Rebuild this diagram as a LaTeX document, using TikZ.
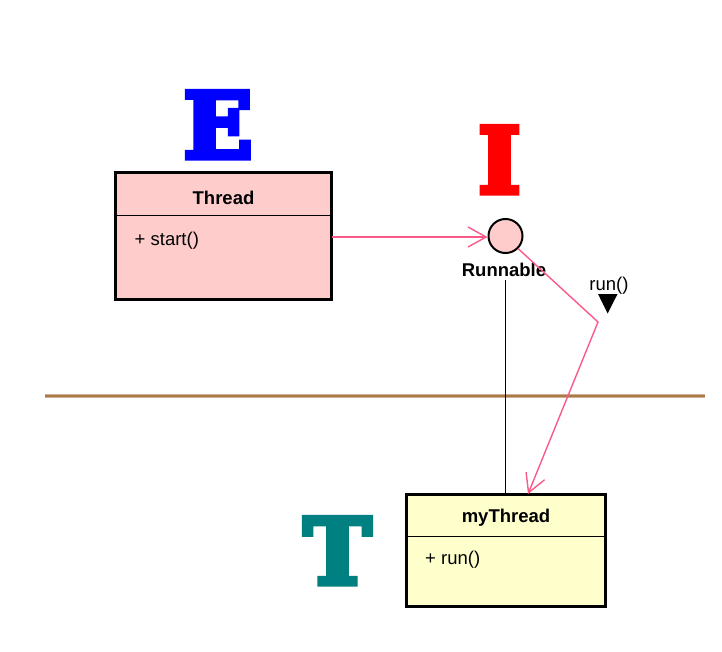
\documentclass[tikz,border=0pt]{standalone}
\usepackage{fontspec}
\setmainfont{Liberation Sans}
\newfontfamily\slabfont{DejaVu Serif}[FakeBold=6]
\usetikzlibrary{arrows.meta}
\definecolor{pinkline}{RGB}{250,90,135}
\definecolor{brownline}{RGB}{172,122,72}
\definecolor{threadfill}{RGB}{255,204,204}
\definecolor{mythreadfill}{RGB}{255,255,204}
\definecolor{letterE}{RGB}{0,0,255}
\definecolor{letterI}{RGB}{255,0,0}
\definecolor{letterT}{RGB}{0,128,128}
\tikzset{
  classbox/.style={draw=black, line width=3pt},
  sepline/.style={draw=black, line width=1pt},
  lbl/.style={inner sep=0pt, anchor=base, font=\fontsize{18.5}{20}\selectfont},
  blbl/.style={lbl, font=\fontsize{18.5}{20}\selectfont\bfseries},
  bigletter/.style={inner sep=0pt, anchor=base, font=\fontsize{91}{100}\selectfont\slabfont\bfseries},
  pinkarrow/.style={draw=pinkline, line width=1.4pt, -{Straight Barb[length=18pt,width=20pt,line width=1.4pt]}},
}
\begin{document}
\begin{tikzpicture}[x=1pt,y=-1pt]
\useasboundingbox (0,0) rectangle (722,652);
% letters
\node[bigletter, text=letterE] (E) at (218,158) {E};
\node[bigletter, text=letterI] (I) at (499.5,193) {I};
\node[bigletter, text=letterT] (T) at (337.5,584) {T};
% Thread class
\path[fill=threadfill] (115.5,173) rectangle (331.5,299.5);
\draw[sepline] (115.5,215.5) -- (331.5,215.5);
\draw[classbox] (115.5,173) rectangle (331.5,299.5);
\node[blbl] (threadname) at (223.5,204.5) {Thread};
\node[lbl, anchor=base west] (threadop) at (134.5,245.5) {+ start()};
\coordinate (threadR) at (331.5,237);
% myThread class
\path[fill=mythreadfill] (406.5,494) rectangle (605.5,606);
\draw[sepline] (406.5,536) -- (605.5,536);
\draw[classbox] (406.5,494) rectangle (605.5,606);
\node[blbl] (mythreadname) at (506,522) {myThread};
\node[lbl, anchor=base west] (mythreadop) at (425,564) {+ run()};
\coordinate (mythreadTop) at (505,494);
\coordinate (mythreadTip) at (528,494);
% Runnable interface
\node[circle, draw=black, line width=2pt, fill=threadfill, minimum size=34pt, inner sep=0pt] (runnable) at (505.5,236) {};
\node[blbl] (runnablelbl) at (504,276.5) {Runnable};
\coordinate (lineTop) at (505,280);
% separator line
\coordinate (hl) at (45,396);
\coordinate (hr) at (705,396);
\draw[brownline!60, line width=3.4pt] (hl) -- (hr);
\draw[brownline, line width=2pt] (hl) -- (hr);
% connectors
\draw[black, line width=1pt] (lineTop) -- (mythreadTop);
\draw[pinkarrow] (threadR) -- (threadR -| runnable.west);
\coordinate (bend) at (598,322);
\draw[pinkarrow] (runnable.-45) -- (bend) -- (mythreadTip);
% run() label and triangle
\node[lbl] (runlbl) at (609,290.5) {run()};
\fill[black] (598,294) -- (617.5,294) -- (607.7,313.5) -- cycle;
\end{tikzpicture}
\end{document}
